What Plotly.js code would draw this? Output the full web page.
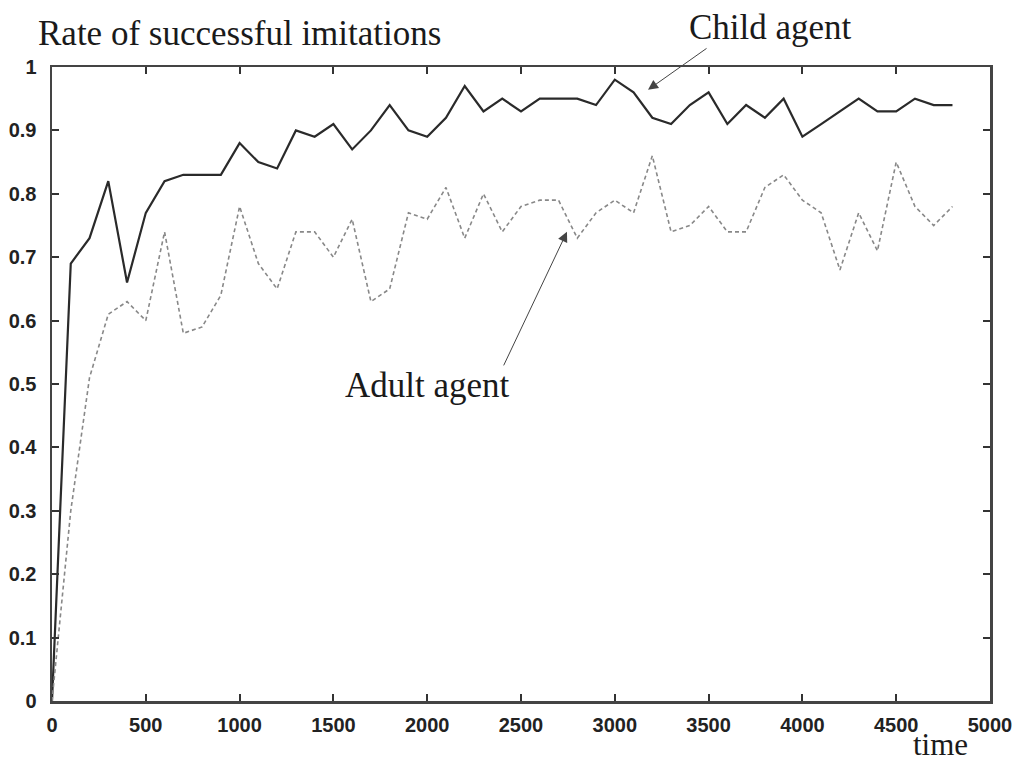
<!DOCTYPE html>
<html>
<head>
<meta charset="utf-8">
<script src="https://cdn.plot.ly/plotly-3.0.1.min.js"></script>
<style>html,body{margin:0;padding:0;background:#fff;}#chart{width:1014px;height:761px;}</style>
</head>
<body>
<div id="chart"></div>
<script>
const time = [0,100,200,300,400,500,600,700,800,900,1000,1100,1200,1300,1400,1500,1600,1700,1800,1900,2000,2100,2200,2300,2400,2500,2600,2700,2800,2900,3000,3100,3200,3300,3400,3500,3600,3700,3800,3900,4000,4100,4200,4300,4400,4500,4600,4700,4800];
const childAgent = [0,0.69,0.73,0.82,0.66,0.77,0.82,0.83,0.83,0.83,0.88,0.85,0.84,0.90,0.89,0.91,0.87,0.90,0.94,0.90,0.89,0.92,0.97,0.93,0.95,0.93,0.95,0.95,0.95,0.94,0.98,0.96,0.92,0.91,0.94,0.96,0.91,0.94,0.92,0.95,0.89,0.91,0.93,0.95,0.93,0.93,0.95,0.94,0.94];
const adultAgent = [0,0.30,0.51,0.61,0.63,0.60,0.74,0.58,0.59,0.64,0.78,0.69,0.65,0.74,0.74,0.70,0.76,0.63,0.65,0.77,0.76,0.81,0.73,0.80,0.74,0.78,0.79,0.79,0.73,0.77,0.79,0.77,0.86,0.74,0.75,0.78,0.74,0.74,0.81,0.83,0.79,0.77,0.68,0.77,0.71,0.85,0.78,0.75,0.78];
const xTicks = [0,500,1000,1500,2000,2500,3000,3500,4000,4500,5000];
const yTicks = [0,0.1,0.2,0.3,0.4,0.5,0.6,0.7,0.8,0.9,1];

const serif = 'Liberation Serif, Times New Roman, serif';
const sans = 'Liberation Sans, Arial, sans-serif';

const traces = [
  {x: time, y: childAgent, mode: 'lines', name: 'Child agent',
   line: {color: '#2a2a2a', width: 2.2}},
  {x: time, y: adultAgent, mode: 'lines', name: 'Adult agent',
   line: {color: '#888', width: 1.6, dash: '4px,3px'}}
];

const axisCommon = {
  showgrid: false, zeroline: false, showline: true, mirror: 'ticks',
  linecolor: '#444', linewidth: 2.5,
  ticks: 'inside', ticklen: 7, tickwidth: 2, tickcolor: '#333',
  tickfont: {family: sans, size: 20, color: '#222', weight: 'bold'}
};

const layout = {
  width: 1014, height: 761,
  margin: {l: 52, r: 24, t: 67, b: 60},
  paper_bgcolor: '#fff', plot_bgcolor: '#fff',
  showlegend: false,
  xaxis: Object.assign({}, axisCommon, {range: [0, 5000], tickvals: xTicks, ticklabelstandoff: 4}),
  yaxis: Object.assign({}, axisCommon, {range: [0, 1], tickvals: yTicks, ticklabelstandoff: 9}),
  annotations: [
    {text: 'Rate of successful imitations', xref: 'paper', yref: 'paper',
     x: -0.017, y: 1.053, xanchor: 'left', yanchor: 'middle', showarrow: false,
     font: {family: serif, size: 35, color: '#1a1a1a'}},
    {text: 'Child agent', xref: 'paper', yref: 'paper',
     x: 0.7655, y: 1.063, xanchor: 'center', yanchor: 'middle', showarrow: false,
     font: {family: serif, size: 35, color: '#1a1a1a'}},
    {text: 'Adult agent', xref: 'x', yref: 'y',
     x: 2004, y: 0.497, xanchor: 'center', yanchor: 'middle', showarrow: false,
     font: {family: serif, size: 35, color: '#1a1a1a'}},
    {text: 'time', xref: 'x', yref: 'paper',
     x: 4735, y: -0.068, xanchor: 'center', yanchor: 'middle', showarrow: false,
     font: {family: serif, size: 31, color: '#1a1a1a'}},
    {text: '', xref: 'x', yref: 'y', axref: 'x', ayref: 'y',
     x: 3177, y: 0.964, ax: 3497, ay: 1.031, showarrow: true,
     arrowhead: 2, arrowsize: 2, arrowwidth: 1, arrowcolor: '#444'},
    {text: '', xref: 'x', yref: 'y', axref: 'x', ayref: 'y',
     x: 2745, y: 0.740, ax: 2404, ay: 0.527, showarrow: true,
     arrowhead: 2, arrowsize: 2, arrowwidth: 1, arrowcolor: '#444'}
  ]
};

Plotly.newPlot('chart', traces, layout, {displayModeBar: false, staticPlot: true});
</script>
</body>
</html>
